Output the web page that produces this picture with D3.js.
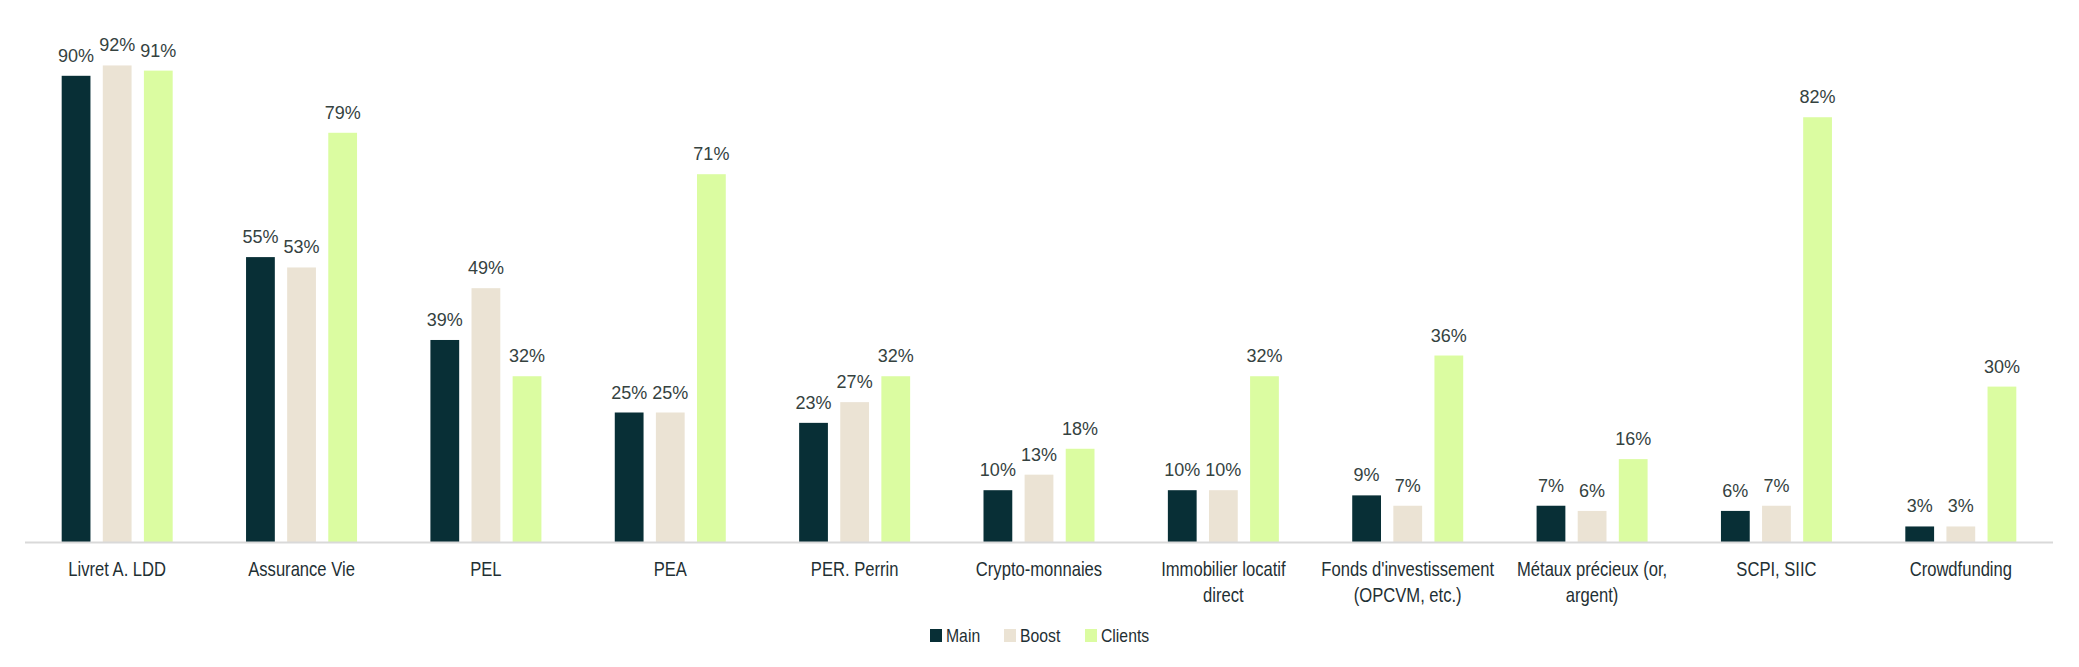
<!DOCTYPE html>
<html>
<head>
<meta charset="utf-8">
<script src="https://cdn.jsdelivr.net/npm/d3@7"></script>
<style>
  body { margin: 0; background: #fff; }
  svg { display: block; }
</style>
</head>
<body>
<svg id="chart"></svg>
<script>
// Chart data
const categories = ["Livret A. LDD", "Assurance Vie", "PEL", "PEA", "PER. Perrin", "Crypto-monnaies",
  "Immobilier locatif\ndirect", "Fonds d'investissement\n(OPCVM, etc.)", "Métaux précieux (or,\nargent)",
  "SCPI, SIIC", "Crowdfunding"];
const seriesNames = ["Main", "Boost", "Clients"];
const mainValues = [90, 55, 39, 25, 23, 10, 10, 9, 7, 6, 3];
const boostValues = [92, 53, 49, 25, 27, 13, 10, 7, 6, 7, 3];
const clientsValues = [91, 79, 32, 71, 32, 18, 32, 36, 16, 82, 30];

const colors = ["#082f36", "#ebe3d4", "#dbfca1"];
const values = [mainValues, boostValues, clientsValues];

const width = 2079, height = 667;
const margin = {top: 24, bottom: 125, left: 25, right: 26};
// the original labels use a condensed face, so squeeze a regular one
const squeeze = 0.83;

const svg = d3.select("#chart")
  .attr("width", width)
  .attr("height", height);

// Scales
const x0 = d3.scaleBand()
  .domain(categories)
  .range([margin.left, width - margin.right])
  .paddingInner(0)
  .paddingOuter(0);

const groupWidth = 111;
const x1 = d3.scaleBand()
  .domain(seriesNames)
  .range([0, groupWidth])
  .paddingInner(0.3);

const y = d3.scaleLinear()
  .domain([0, 100])
  .range([height - margin.bottom, margin.top]);

const offset = (x0.bandwidth() - groupWidth) / 2;

// Bars and value labels
seriesNames.forEach((s, si) => {
  const g = svg.append("g");
  g.selectAll("rect")
    .data(values[si])
    .join("rect")
    .attr("x", (d, i) => x0(categories[i]) + offset + x1(s))
    .attr("y", d => y(d))
    .attr("width", x1.bandwidth())
    .attr("height", d => y(0) - y(d))
    .attr("fill", colors[si]);

  g.selectAll("text")
    .data(values[si])
    .join("text")
    .attr("x", (d, i) => x0(categories[i]) + offset + x1(s) + x1.bandwidth() / 2)
    .attr("y", d => y(d) - 14)
    .attr("text-anchor", "middle")
    .style("font-family", "'Liberation Sans', Arial, sans-serif")
    .style("font-size", "18px")
    .style("fill", "#35423f")
    .text(d => d + "%");
});

// Baseline
svg.append("line")
  .attr("x1", margin.left)
  .attr("x2", width - margin.right)
  .attr("y1", y(0) + 0.5)
  .attr("y2", y(0) + 0.5)
  .attr("stroke", "#d9d9d9")
  .attr("stroke-width", 2);

// Category labels
const labels = svg.append("g")
  .selectAll("text")
  .data(categories)
  .join("text")
  .attr("transform", d => `translate(${x0(d) + x0.bandwidth() / 2},${y(0) + 34}) scale(${squeeze},1)`)
  .attr("text-anchor", "middle")
  .style("font-family", "'Liberation Sans', Arial, sans-serif")
  .style("font-size", "20px")
  .style("fill", "#1f3034");

labels.each(function(d) {
  const t = d3.select(this);
  d.split("\n").forEach((line, i) => {
    t.append("tspan")
      .attr("x", 0)
      .attr("dy", i === 0 ? 0 : 26)
      .text(line);
  });
});

// Legend
const legendX = [930, 1004, 1085];
const legend = svg.append("g");
seriesNames.forEach((s, i) => {
  legend.append("rect")
    .attr("x", legendX[i])
    .attr("y", 629)
    .attr("width", 12)
    .attr("height", 13)
    .attr("fill", colors[i]);
  legend.append("text")
    .attr("transform", `translate(${legendX[i] + 16},642) scale(${squeeze},1)`)
    .style("font-family", "'Liberation Sans', Arial, sans-serif")
    .style("font-size", "19px")
    .style("fill", "#1f3034")
    .text(s);
});
</script>
</body>
</html>
